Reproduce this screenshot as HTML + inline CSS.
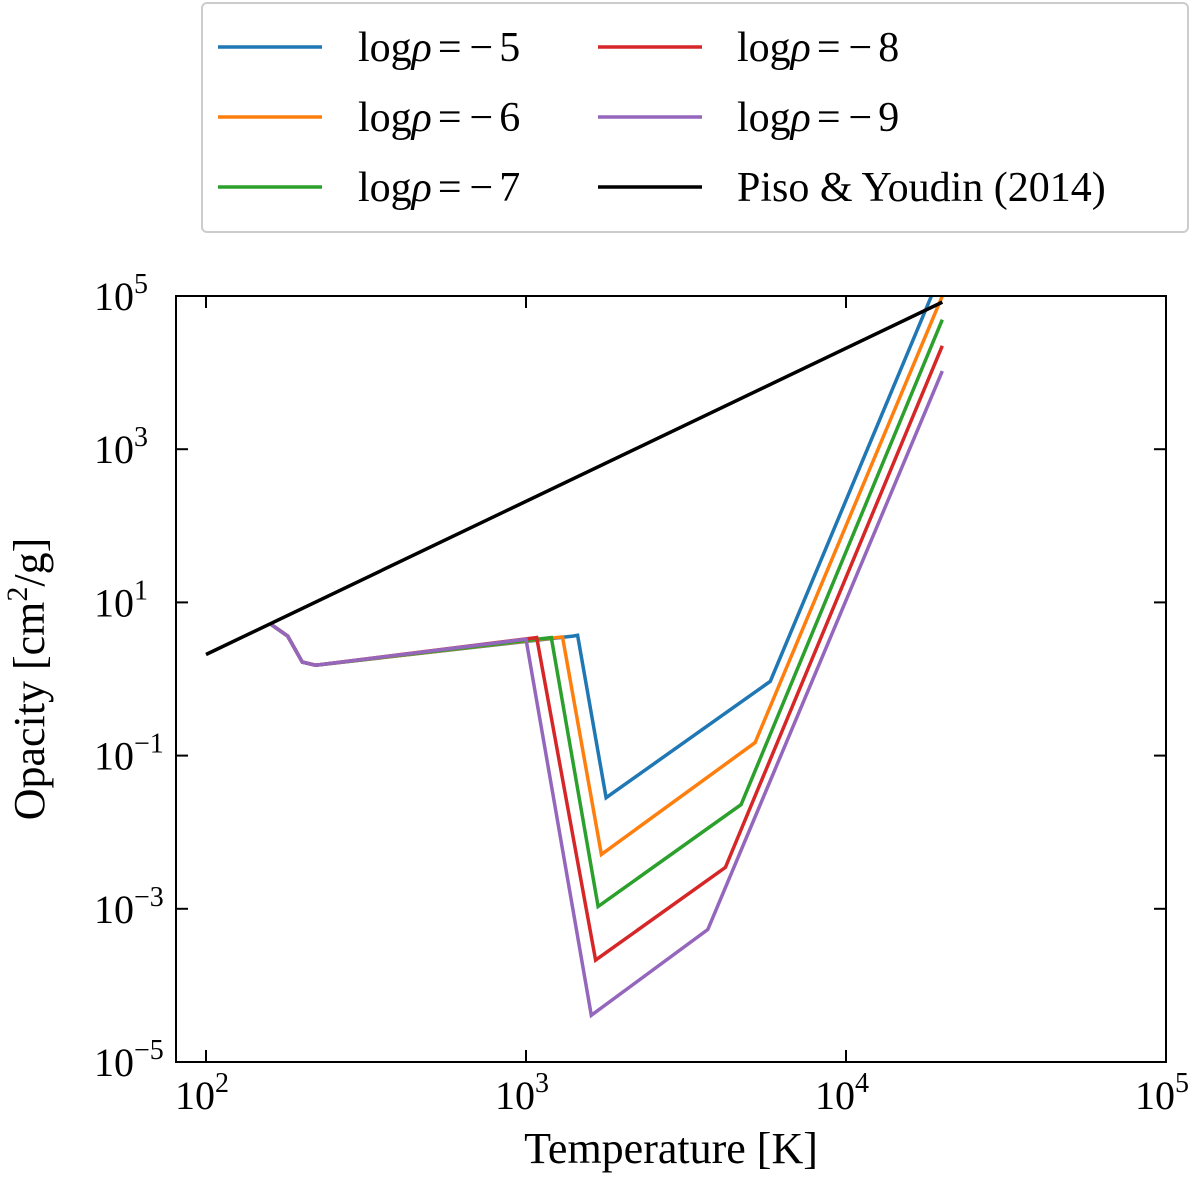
<!DOCTYPE html>
<html><head><meta charset="utf-8"><style>
body{margin:0;background:#fff;}
svg{display:block;font-family:"Liberation Serif","DejaVu Serif",serif;}
</style></head><body>
<svg id="chart" width="1200" height="1177" viewBox="0 0 1200 1177" xmlns="http://www.w3.org/2000/svg"></svg>
<script>
const seriesNames=["log ρ = −5","log ρ = −6","log ρ = −7","log ρ = −8","log ρ = −9","Piso & Youdin (2014)"];
const seriesColors=["#1f77b4","#ff7f0e","#2ca02c","#d62728","#9467bd","#000000"];
const leftT=[160,180,200,220];
const leftLogK=[0.71,0.56,0.22,0.18];
const rho5T=[1400,1450,1780,5800,20000];
const rho5K=[0.56,0.57,-1.55,-0.03,5.34];
const rho6T=[1300,1720,5200,20000];
const rho6K=[0.55,-2.29,-0.83,5.0];
const rho7T=[1200,1680,4700,20000];
const rho7K=[0.54,-2.97,-1.64,4.69];
const rho8T=[1080,1650,4200,20000];
const rho8K=[0.54,-3.67,-2.46,4.35];
const rho9T=[1000,1600,3700,20000];
const rho9K=[0.52,-4.39,-3.27,4.02];
const pisoT=[100,20000];
const pisoK=[0.32,4.92];
const xTicks=[2,3,4,5];
const yTicks=[-5,-3,-1,1,3,5];

const NS="http://www.w3.org/2000/svg";
const svg=document.getElementById('chart');
const L=176,R=1166,T=296,B=1062;
const xMin=2-30/320,xMax=5,yMin=-5,yMax=5;
const xs=v=>L+(Math.log10(v)-xMin)/(xMax-xMin)*(R-L);
const ys=lk=>B-(lk-yMin)/(yMax-yMin)*(B-T);
function mk(tag,attrs,parent){const e=document.createElementNS(NS,tag);for(const k in attrs)e.setAttribute(k,attrs[k]);(parent||svg).appendChild(e);return e;}

const defs=mk('defs',{});
const cp=mk('clipPath',{id:'clip'},defs);
mk('rect',{x:L,y:T,width:R-L,height:B-T},cp);

const plot=mk('g',{'clip-path':'url(#clip)'});


const sets=[[rho5T,rho5K],[rho6T,rho6K],[rho7T,rho7K],[rho8T,rho8K],[rho9T,rho9K]];
sets.forEach((s,i)=>{
  const T_=leftT.concat(s[0]),K_=leftLogK.concat(s[1]);
  const pts=T_.map((t,j)=>xs(t).toFixed(1)+','+ys(K_[j]).toFixed(1)).join(' ');
  const p=mk('polyline',{points:pts,fill:'none',stroke:seriesColors[i],'stroke-width':3.5,'stroke-linejoin':'miter'},plot);
  
  
});
{
  const pts=pisoT.map((t,j)=>xs(t)+','+ys(pisoK[j])).join(' ');
  const p=mk('polyline',{points:pts,fill:'none',stroke:'#000','stroke-width':3.5},plot);
  
  
}
const frame=mk('rect',{x:L,y:T,width:R-L,height:B-T,fill:'none',stroke:'#000','stroke-width':2});



xTicks.forEach(t=>{
  const x=L+(t-xMin)/(xMax-xMin)*(R-L);
  mk('line',{x1:x,x2:x,y1:B,y2:B-12,stroke:'#000','stroke-width':2});
  mk('line',{x1:x,x2:x,y1:T,y2:T+12,stroke:'#000','stroke-width':2});
  const tx=mk('text',{x:x-4,y:B+47,'font-size':40,'text-anchor':'middle'});
  
  
  tx.innerHTML='10<tspan dy="-17" font-size="28">'+t+'</tspan>';
});
yTicks.forEach(t=>{
  const y=ys(t);
  mk('line',{x1:L,x2:L+12,y1:y,y2:y,stroke:'#000','stroke-width':2});
  mk('line',{x1:R,x2:R-12,y1:y,y2:y,stroke:'#000','stroke-width':2});
  const tx=mk('text',{x:94,y:y+14,'font-size':40});
  
  
  tx.innerHTML='10<tspan dy="-17" font-size="28">'+(t<0?'−'+(-t):t)+'</tspan>';
});
const xl=mk('text',{x:671,y:1163,'font-size':44,'text-anchor':'middle'});


xl.textContent='Temperature [K]';
const yl=mk('text',{x:0,y:0,'font-size':44,'text-anchor':'middle',transform:'translate(44,679) rotate(-90)'});


yl.innerHTML='Opacity [cm<tspan dy="-17" font-size="30">2</tspan><tspan dy="17">/g]</tspan>';

const lg=mk('g',{});


mk('rect',{x:202,y:3,width:986,height:229,rx:5,fill:'#fff',stroke:'#ccc','stroke-width':2},lg);
seriesNames.forEach((n,i)=>{
  const col=i<3?0:1,row=i%3;
  const x0=col?598:218,y0=47+row*70;
  const e=mk('g',{},lg);
  
  
  mk('line',{x1:x0,x2:x0+104,y1:y0,y2:y0,stroke:seriesColors[i],'stroke-width':3.5},e);
  const t=mk('text',{x:col?737:358,y:y0+14,'font-size':42},e);
  if(i<5){t.innerHTML='log<tspan font-style="italic">ρ</tspan><tspan dx="6">=</tspan><tspan dx="8">−</tspan><tspan dx="6">'+(5+i)+'</tspan>';}
  else t.textContent=n;
});
</script>
</body></html>
